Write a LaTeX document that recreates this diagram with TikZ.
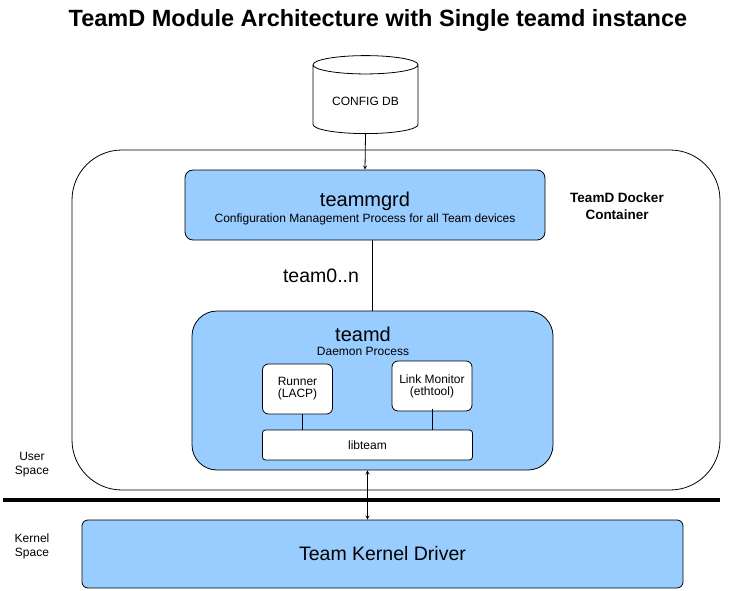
\documentclass[tikz,border=0pt]{standalone}
\usepackage{fontspec}
\setmainfont{Liberation Sans}
\usepackage{xcolor}
\usetikzlibrary{positioning}
\usetikzlibrary{arrows}
\usetikzlibrary{shapes.geometric,calc}
\definecolor{procblue}{HTML}{99CCFF}
\newcommand*{\fsz}[1]{\fontsize{#1}{#1}\selectfont}

\begin{document}
\begin{tikzpicture}[x=1pt,y=-1pt,
    procbox/.style={draw, fill=procblue, line width=0.8pt},
    subbox/.style={draw, fill=white, line width=0.8pt, align=center, font=\fsz{12}},
    sidelabel/.style={align=center, font=\fontsize{12}{14}\selectfont}]
\useasboundingbox (0,0) rectangle (752,591);

 % Title
 \node (title) at (378,20) {\fsz{23.5}\bfseries TeamD Module Architecture with Single teamd instance};

 % Config database
 \node[cylinder, draw, fill=white, line width=0.8pt,
    shape border rotate=90, aspect=0.25,
    minimum width=105, minimum height=78,
    font=\fsz{12}
 ] (cfgdb) at (365.5,101) {CONFIG DB};

 % Docker container
 \node[draw, line width=0.8pt,
    rounded corners=50,
    minimum width=648,
    minimum height=340
 ] (container) at (396,320) {};
 \node[align=center, font=\fontsize{13.5}{17}\selectfont\bfseries] (contlbl) at (617,206) {TeamD Docker\\Container};

 % teammgrd
\node [procbox,
    rounded corners=8,
    minimum width=360,
    minimum height=70,
    align=center
]  (teammgrd) at (365,205) {{\fsz{20}\rule{0pt}{22pt}teammgrd}\\[2pt]{\fsz{12}Configuration Management Process for all Team devices}};

 % teamd
\node [procbox,
    rounded corners=25,
    minimum width=361,
    minimum height=159
] (teamd) at (372.5,390.5) {};
\node[align=center, inner sep=0pt] (teamdlbl) at (363,341)
    {{\fsz{20}teamd}\\[2pt]{\fsz{12}Daemon Process}};

\node [subbox,
    rounded corners=6,
    minimum width=70,
    minimum height=50
] (runner) at (297.5,389) {Runner\\(LACP)};

\node [subbox,
    rounded corners=6,
    minimum width=80,
    minimum height=50
] (linkmon) at (432,386) {Link Monitor\\(ethtool)};

\node [subbox,
    rounded corners=3,
    minimum width=210,
    minimum height=30
] (libteam) at (367.5,445) {libteam};

 % Kernel
\node [procbox,
    rounded corners=6,
    minimum width=601,
    minimum height=68,
    font=\fsz{19.5}
] (kernel) at (382.5,554) {Team Kernel Driver};

\node[sidelabel] (userlbl) at (32,465) {User\\Space};
\node[sidelabel] (kernlbl) at (32,546) {Kernel\\Space};

 % User / kernel boundary
\coordinate (barL) at (3,500);
\coordinate (barR) at (720,500);
\draw[line width=4pt] (barL) -- (barR);

\draw[-stealth, line width=0.8pt] (cfgdb.south) -- (teammgrd.north);
\draw[line width=0.8pt] (teammgrd.south -| teamd.north) -- (teamd.north);
\node[font=\fsz{19.5}] (teamlbl) at (321,276) {team0..n};

\draw[line width=0.8pt] ([xshift=5]runner.south) -- ([xshift=5]runner.south |- libteam.north);
\draw[line width=0.8pt] ([yshift=2]linkmon.south) -- (linkmon.south |- libteam.north);

\draw[stealth-stealth, line width=0.8pt] (teamd.south -| libteam) -- (kernel.north -| libteam);
\end{tikzpicture}
\end{document}
